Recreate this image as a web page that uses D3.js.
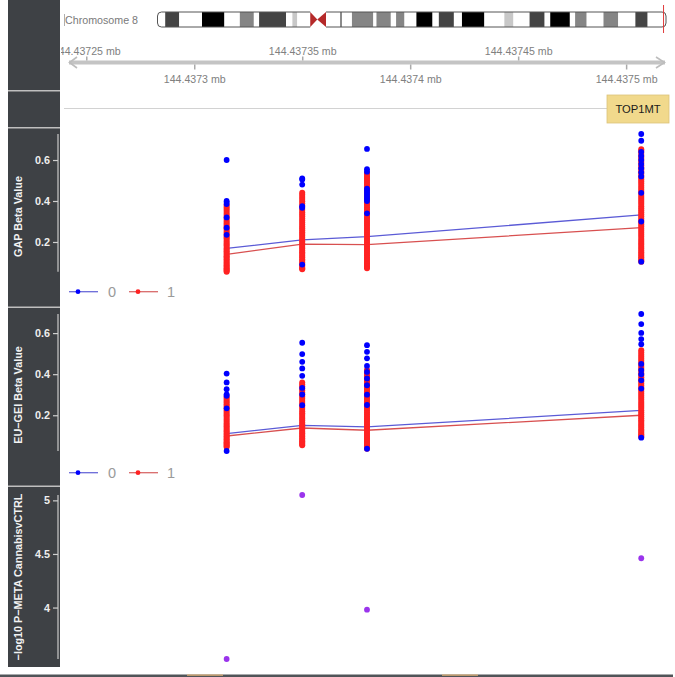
<!DOCTYPE html>
<html><head><meta charset="utf-8">
<script src="https://cdn.jsdelivr.net/npm/d3@7"></script>
<style>
html,body{margin:0;padding:0;background:#fff;}
svg{display:block;font-family:"Liberation Sans",Arial,sans-serif;}
</style></head>
<body>
<svg id="chart" width="675" height="677"></svg>
<script>
// ---------- DATA ----------
const chromName = "Chromosome 8";
const chromLength = 145.14; // Mb
const markerMb = 144.437;
// cytobands [startMb, endMb, stain]
const bandStart = [0,2.2,6.2,12.7,19.1,23.5,27.5,29,36.7,38.5,39.9,48.1,52.2,52.6,55.5,61.6,62.5,66.6,68.1,70.5,73.9,78.5,80.3,84.6,86.9,93.3,99,101.6,106.2,110.5,112.1,117.7,119.2,122.5,127.3,131.5,136.4,139.9];
const bandEnd   = [2.2,6.2,12.7,19.1,23.5,27.5,29,36.7,38.5,39.9,43.6,52.2,52.6,55.5,61.6,62.5,66.6,68.1,70.5,73.9,78.5,80.3,84.6,86.9,93.3,99,101.6,106.2,110.5,112.1,117.7,119.2,122.5,127.3,131.5,136.4,139.9,145.14];
const bandStain = ["gneg","gpos75","gneg","gpos100","gneg","gpos50","gneg","gpos75","gneg","gpos25","gneg","gneg","gpos75","gneg","gpos50","gneg","gpos50","gneg","gpos50","gneg","gpos100","gneg","gpos75","gneg","gpos100","gneg","gpos25","gneg","gpos75","gneg","gpos100","gneg","gpos50","gneg","gpos50","gneg","gpos75","gneg"];
const centromere = [43.6, 45.6, 48.1];

const topTicks = [144437250, 144437350, 144437450];
const topTickLabels = ["144.43725 mb", "144.43735 mb", "144.43745 mb"];
const bottomTicks = [144437300, 144437400, 144437500];
const bottomTickLabels = ["144.4373 mb", "144.4374 mb", "144.4375 mb"];

const geneName = "TOP1MT";

const cpgPos = [144437315, 144437350, 144437380, 144437507];
const groups = ["0", "1"];

// GAP beta values per CpG
const gapBlue = [
  [0.60,0.40,0.395,0.385,0.32,0.27,0.235],
  [0.51,0.505,0.48,0.375,0.367,0.09],
  [0.654,0.555,0.543,0.46,0.45,0.44,0.43,0.42,0.41,0.40,0.34],
  [0.727,0.694,0.64,0.62,0.60,0.58,0.56,0.54,0.52,0.44,0.30,0.104]
];
const gapRed = [
  [0.055,0.06,0.066,0.072,0.079,0.085,0.093,0.10,0.108,0.116,0.124,0.131,0.139,0.147,0.155,0.163,0.171,0.18,0.188,0.196,0.205,0.214,0.222,0.231,0.24,0.249,0.258,0.267,0.276,0.285,0.294,0.303,0.312,0.322,0.332,0.342,0.352,0.362,0.371,0.38],
  [0.067,0.072,0.078,0.085,0.092,0.10,0.108,0.116,0.125,0.133,0.142,0.15,0.159,0.168,0.176,0.185,0.194,0.203,0.212,0.221,0.23,0.239,0.248,0.257,0.267,0.276,0.285,0.295,0.305,0.315,0.325,0.335,0.345,0.356,0.366,0.377,0.388,0.399,0.41,0.42,0.43,0.44],
  [0.072,0.078,0.085,0.092,0.10,0.108,0.117,0.126,0.135,0.144,0.153,0.162,0.171,0.18,0.19,0.2,0.21,0.22,0.23,0.24,0.25,0.26,0.27,0.28,0.29,0.3,0.31,0.32,0.33,0.34,0.35,0.36,0.37,0.38,0.39,0.4,0.41,0.42,0.43,0.44,0.45,0.46,0.47,0.48,0.49,0.5,0.51,0.52,0.53,0.537],
  [0.104,0.11,0.117,0.125,0.133,0.141,0.15,0.159,0.168,0.177,0.186,0.195,0.205,0.215,0.225,0.235,0.245,0.255,0.265,0.275,0.285,0.295,0.305,0.315,0.325,0.335,0.345,0.355,0.365,0.375,0.385,0.395,0.405,0.415,0.425,0.435,0.445,0.455,0.465,0.475,0.485,0.495,0.505,0.515,0.525,0.535,0.545,0.555,0.565,0.575,0.585,0.595,0.605,0.615,0.625,0.635,0.645,0.652]
];
const gapMean0 = [0.169, 0.21, 0.226, 0.332];
const gapMean1 = [0.14, 0.19, 0.187, 0.27];

// EU-GEI beta values per CpG
const euBlue = [
  [0.403,0.36,0.327,0.302,0.295,0.234,0.026],
  [0.553,0.498,0.46,0.428,0.392,0.333,0.301,0.249],
  [0.541,0.509,0.477,0.44,0.411,0.379,0.346,0.30,0.25,0.037],
  [0.693,0.644,0.601,0.571,0.546,0.45,0.42,0.40,0.37,0.33,0.091]
];
const euRed = [
  [0.045,0.05,0.056,0.062,0.069,0.076,0.083,0.09,0.098,0.106,0.114,0.122,0.13,0.138,0.146,0.155,0.164,0.173,0.182,0.191,0.2,0.209,0.218,0.227,0.236,0.245,0.254,0.263,0.272,0.281,0.29],
  [0.054,0.06,0.066,0.073,0.08,0.088,0.096,0.104,0.112,0.12,0.129,0.138,0.147,0.156,0.165,0.174,0.183,0.192,0.201,0.21,0.22,0.23,0.24,0.25,0.26,0.27,0.28,0.29,0.3,0.31,0.32,0.33,0.34,0.35,0.36],
  [0.037,0.043,0.05,0.057,0.064,0.072,0.08,0.088,0.096,0.105,0.114,0.123,0.132,0.141,0.15,0.159,0.168,0.177,0.186,0.195,0.205,0.215,0.225,0.235,0.245,0.255,0.265,0.275,0.285,0.295,0.305,0.315,0.325,0.335,0.345,0.355,0.365,0.375,0.385,0.395,0.405,0.42],
  [0.094,0.1,0.107,0.115,0.123,0.131,0.14,0.149,0.158,0.167,0.176,0.185,0.195,0.205,0.215,0.225,0.235,0.245,0.255,0.265,0.275,0.285,0.295,0.305,0.315,0.325,0.335,0.345,0.355,0.365,0.375,0.385,0.395,0.405,0.415,0.425,0.435,0.445,0.455,0.465,0.475,0.485,0.495,0.505,0.517]
];
const euMean0 = [0.111, 0.151, 0.143, 0.224];
const euMean1 = [0.099, 0.138, 0.127, 0.2];

// -log10 P META
const pMeta = [3.52, 5.05, 3.98, 4.46];

const betaTicks = [0.2, 0.4, 0.6];
const pTicks = [4, 4.5, 5];
const pTickLabels = ["4", "4.5", "5"];

// ---------- DRAW ----------
const svg = d3.select("#chart");
const PANEL_X0 = 8, PANEL_X1 = 60, AXIS_X = 58;
const DARK = "#3e4145";
const BLUE = "#0000ff", RED = "#ff2222";
const stainColor = {gneg:"#ffffff", gpos25:"#c8c8c8", gpos50:"#858585", gpos75:"#444444", gpos100:"#000000"};

const x = d3.scaleLinear().domain([144437242, 144437518]).range([69, 665]);

const defs = svg.append("defs");
defs.append("clipPath").attr("id","plotclip")
  .append("rect").attr("x", 61).attr("y", 0).attr("width", 614).attr("height", 677);

const plot = svg.append("g").attr("clip-path","url(#plotclip)");

// ---- Ideogram ----
const cx = d3.scaleLinear().domain([0, chromLength]).range([157.5, 666]);
const iTop = 12, iBot = 27, iMid = (iTop+iBot)/2;
const ideo = plot.append("g");
defs.append("clipPath").attr("id","pclip").append("rect")
  .attr("x", cx(0)).attr("y", iTop).attr("width", cx(centromere[0]) - cx(0) + 6).attr("height", iBot-iTop).attr("rx", 4);
defs.append("clipPath").attr("id","qclip").append("rect")
  .attr("x", cx(centromere[2]) - 6).attr("y", iTop).attr("width", cx(chromLength) - cx(centromere[2]) + 6).attr("height", iBot-iTop).attr("rx", 4);
const bands = bandStart.map((s,i)=>({s, e: bandEnd[i], st: bandStain[i]}));
const pg = ideo.append("g").attr("clip-path","url(#pclip)");
const qg = ideo.append("g").attr("clip-path","url(#qclip)");
bands.forEach(b=>{
  const g = b.e <= centromere[0] ? pg : qg;
  g.append("rect").attr("x", cx(b.s)).attr("y", iTop).attr("width", Math.max(0, cx(b.e)-cx(b.s))).attr("height", iBot-iTop)
    .attr("fill", stainColor[b.st]);
});
ideo.append("path")
  .attr("d", `M${cx(centromere[0])},${iTop} L${cx(0)+4},${iTop} Q${cx(0)},${iTop} ${cx(0)},${iTop+4} L${cx(0)},${iBot-4} Q${cx(0)},${iBot} ${cx(0)+4},${iBot} L${cx(centromere[0])},${iBot}`)
  .attr("fill","none").attr("stroke","#555").attr("stroke-width",1);
ideo.append("path")
  .attr("d", `M${cx(centromere[2])},${iTop} L${cx(chromLength)-4},${iTop} Q${cx(chromLength)},${iTop} ${cx(chromLength)},${iTop+4} L${cx(chromLength)},${iBot-4} Q${cx(chromLength)},${iBot} ${cx(chromLength)-4},${iBot} L${cx(centromere[2])},${iBot}`)
  .attr("fill","none").attr("stroke","#555").attr("stroke-width",1);
ideo.append("path").attr("d", `M${cx(centromere[0])},${iTop} L${cx(centromere[1])},${iMid} L${cx(centromere[0])},${iBot} Z`).attr("fill","#b52a2a");
ideo.append("path").attr("d", `M${cx(centromere[2])},${iTop} L${cx(centromere[1])},${iMid} L${cx(centromere[2])},${iBot} Z`).attr("fill","#b52a2a");
ideo.append("line").attr("x1", cx(markerMb)).attr("x2", cx(markerMb)).attr("y1", 5).attr("y2", 33)
  .attr("stroke","#e03a3a").attr("stroke-width",1);

plot.append("line").attr("x1",64.5).attr("x2",64.5).attr("y1",14).attr("y2",26).attr("stroke","#999").attr("stroke-width",0.8);
plot.append("text").attr("x", 65).attr("y", 24).attr("font-size", 10.7).attr("fill","#7a7a7a").text(chromName);

// ---- Genome axis ----
const AX_Y = 62.5;
plot.append("line").attr("x1", 69).attr("x2", 665).attr("y1", AX_Y).attr("y2", AX_Y)
  .attr("stroke","#c4c4c4").attr("stroke-width",4);
plot.append("polyline").attr("points", `77,57 69.5,${AX_Y} 77,68`).attr("fill","none").attr("stroke","#bdbdbd").attr("stroke-width",1.6);
plot.append("polyline").attr("points", `656,57 664.5,${AX_Y} 656,68`).attr("fill","none").attr("stroke","#bdbdbd").attr("stroke-width",1.6);

const axTop = plot.append("g").attr("transform", `translate(0,${AX_Y-2})`)
  .call(d3.axisTop(x).tickValues(topTicks).tickSize(4).tickPadding(2)
    .tickFormat((d,i)=>topTickLabels[i]));
const axBot = plot.append("g").attr("transform", `translate(0,${AX_Y+2})`)
  .call(d3.axisBottom(x).tickValues(bottomTicks).tickSize(5).tickPadding(6)
    .tickFormat((d,i)=>bottomTickLabels[i]));
[axTop, axBot].forEach(a=>{
  a.select(".domain").remove();
  a.selectAll(".tick line").attr("stroke","#aaa").attr("stroke-width",1.5);
  a.selectAll(".tick text").attr("fill","#808080").attr("font-size",10.6).attr("font-family","Liberation Sans, Arial, sans-serif");
});

// ---- Gene track ----
plot.append("line").attr("x1", 64).attr("x2", 607).attr("y1", 108.5).attr("y2", 108.5).attr("stroke","#d2d2d2").attr("stroke-width",1);
plot.append("rect").attr("x", 607).attr("y", 95).attr("width", 62).attr("height", 28)
  .attr("fill","#f1d98c").attr("stroke","#dcc37a").attr("stroke-width",0.8);
plot.append("text").attr("x", 638).attr("y", 113).attr("text-anchor","middle").attr("font-size",11.2).attr("fill","#1a1a1a").text(geneName);

// ---- Left panels ----
const panels = [[0,90],[91.5,127],[128.5,306.5],[308,485.5],[487,667]];
svg.append("rect").attr("x",PANEL_X0).attr("y",0).attr("width",PANEL_X1-PANEL_X0).attr("height",667).attr("fill","#bfbfbf");
panels.forEach(p=>{
  svg.append("rect").attr("x",PANEL_X0).attr("y",p[0]).attr("width",PANEL_X1-PANEL_X0).attr("height",p[1]-p[0]).attr("fill",DARK);
});

function drawYAxis(scale, ticks, labels, title, titleY){
  const [r0, r1] = scale.range();
  svg.append("line").attr("x1",AXIS_X).attr("x2",AXIS_X).attr("y1",r1).attr("y2",r0).attr("stroke","#a8a8a8").attr("stroke-width",1.6);
  const g = svg.append("g").attr("transform",`translate(${AXIS_X},0)`)
    .call(d3.axisLeft(scale).tickValues(ticks).tickSize(5).tickPadding(3).tickFormat((d,i)=>labels[i]));
  g.select(".domain").remove();
  g.selectAll(".tick line").attr("stroke","#cfcfcf").attr("stroke-width",1.2);
  g.selectAll(".tick text").attr("fill","#eeeeee").attr("font-size",10.8).attr("font-weight","bold")
    .attr("font-family","Liberation Sans, Arial, sans-serif");
  svg.append("text").attr("transform",`translate(17.5,${titleY}) rotate(-90)`)
    .attr("text-anchor","middle").attr("dominant-baseline","central")
    .attr("font-size",10.8).attr("font-weight","bold").attr("fill","#f2f2f2").text(title);
}

function betaPanel(blue, red, mean0, mean1, rangeBottom, rangeTop, title, titleY, legendY){
  const all = blue.flat().concat(red.flat());
  const y = d3.scaleLinear().domain(d3.extent(all)).range([rangeBottom, rangeTop]);
  const line = d3.line().x((d,i)=>x(cpgPos[i])).y(d=>y(d));
  plot.append("path").datum(mean0).attr("d", line).attr("fill","none").attr("stroke","#5b5bd6").attr("stroke-width",1.3);
  plot.append("path").datum(mean1).attr("d", line).attr("fill","none").attr("stroke","#d85050").attr("stroke-width",1.3);
  red.forEach((vals,i)=>{
    plot.append("g").selectAll("circle").data(vals).join("circle")
      .attr("cx", x(cpgPos[i])).attr("cy", d=>y(d)).attr("r", 3).attr("fill", RED);
  });
  blue.forEach((vals,i)=>{
    plot.append("g").selectAll("circle").data(vals).join("circle")
      .attr("cx", x(cpgPos[i])).attr("cy", d=>y(d)).attr("r", 2.9).attr("fill", BLUE);
  });
  // legend
  const lg = plot.append("g");
  lg.append("line").attr("x1",69).attr("x2",98).attr("y1",legendY).attr("y2",legendY).attr("stroke","#6a6ad8").attr("stroke-width",1.3);
  lg.append("circle").attr("cx",78).attr("cy",legendY).attr("r",2.4).attr("fill",BLUE);
  lg.append("text").attr("x",108).attr("y",legendY+5.5).attr("font-size",14.5).attr("fill","#9a9a9a").text(groups[0]);
  lg.append("line").attr("x1",129).attr("x2",158).attr("y1",legendY).attr("y2",legendY).attr("stroke","#d86a6a").attr("stroke-width",1.3);
  lg.append("circle").attr("cx",138).attr("cy",legendY).attr("r",2.4).attr("fill",RED);
  lg.append("text").attr("x",167).attr("y",legendY+5.5).attr("font-size",14.5).attr("fill","#9a9a9a").text(groups[1]);
  drawYAxis(y, betaTicks, betaTicks.map(d=>String(d)), title, titleY);
}

betaPanel(gapBlue, gapRed, gapMean0, gapMean1, 271.7, 134, "GAP Beta Value", 216.5, 291.7);
betaPanel(euBlue, euRed, euMean0, euMean1, 451, 314, "EU−GEI Beta Value", 395, 472.7);

// P-META panel
const yp = d3.scaleLinear().domain(d3.extent(pMeta)).range([659, 495]);
plot.append("g").selectAll("circle").data(pMeta).join("circle")
  .attr("cx",(d,i)=>x(cpgPos[i])).attr("cy",d=>yp(d)).attr("r",2.9).attr("fill","#9a34ec");
drawYAxis(yp, pTicks, pTickLabels, "−log10 P−META CannabisvCTRL", 577);

// bottom edge
svg.append("rect").attr("x",0).attr("y",674.5).attr("width",673).attr("height",2.5).attr("fill","#505458");
svg.append("rect").attr("x",187).attr("y",674.5).attr("width",36).attr("height",1.2).attr("fill","#e6b67a");
svg.append("rect").attr("x",442).attr("y",674.5).attr("width",36).attr("height",1.2).attr("fill","#e6b67a");
</script>
</body></html>
